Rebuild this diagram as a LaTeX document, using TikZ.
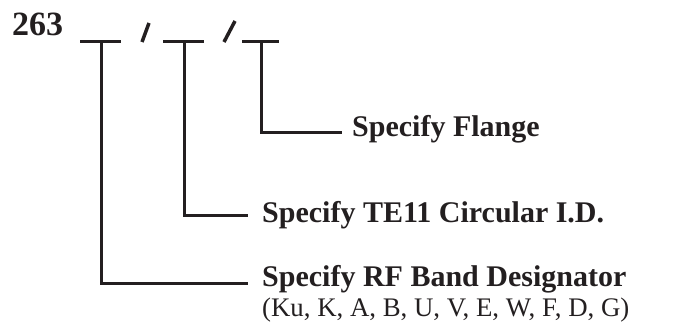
\documentclass[tikz,border=0pt]{standalone}
\usepackage{fontspec}
\setmainfont{Liberation Serif}
\definecolor{ink}{HTML}{231F20}
\begin{document}
\begin{tikzpicture}[x=1pt,y=-1pt,
  wire/.style={draw=ink,line width=3pt},
  slash/.style={draw=ink,line width=3.5pt},
  lbl/.style={anchor=base west,inner sep=0pt,text=ink,font=\fontsize{30}{32}\selectfont\bfseries},
  sub/.style={anchor=base west,inner sep=0pt,text=ink,font=\fontsize{26.8}{30}\selectfont}]
\useasboundingbox (0,0) rectangle (691,329);
\node[anchor=base west,inner sep=0pt,text=ink,font=\fontsize{34}{36}\selectfont\bfseries] (num) at (12,36) {263};
% underlines
\coordinate (u1a) at (80,42); \coordinate (u1b) at (121,42);
\coordinate (u2a) at (163,42); \coordinate (u2b) at (204,42);
\coordinate (u3a) at (242,42); \coordinate (u3b) at (279,42);
\draw[wire] (u1a) -- (u1b);
\draw[wire] (u2a) -- (u2b);
\draw[wire] (u3a) -- (u3b);
% slashes
\coordinate (s1a) at (142,42); \coordinate (s1b) at (149,23);
\coordinate (s2a) at (224,42); \coordinate (s2b) at (235,21);
\draw[slash] (s1a) -- (s1b);
\draw[slash] (s2a) -- (s2b);
% labels
\node[lbl] (flange) at (352,136) {Specify Flange};
\node[lbl] (te) at (262,222) {Specify TE11 Circular I.D.};
\node[lbl] (rf) at (262,286) {Specify RF Band Designator};
\node[sub] (list) at (262,316) {(Ku, K, A, B, U, V, E, W, F, D, G)};
% leaders
\coordinate (v1) at (101,42); \coordinate (e1) at (248,283);
\coordinate (v2) at (184,42); \coordinate (e2) at (248,215);
\coordinate (v3) at (261,42); \coordinate (e3) at (342,132);
\draw[wire] (v1) |- (e1);
\draw[wire] (v2) |- (e2);
\draw[wire] (v3) |- (e3);
\end{tikzpicture}
\end{document}
